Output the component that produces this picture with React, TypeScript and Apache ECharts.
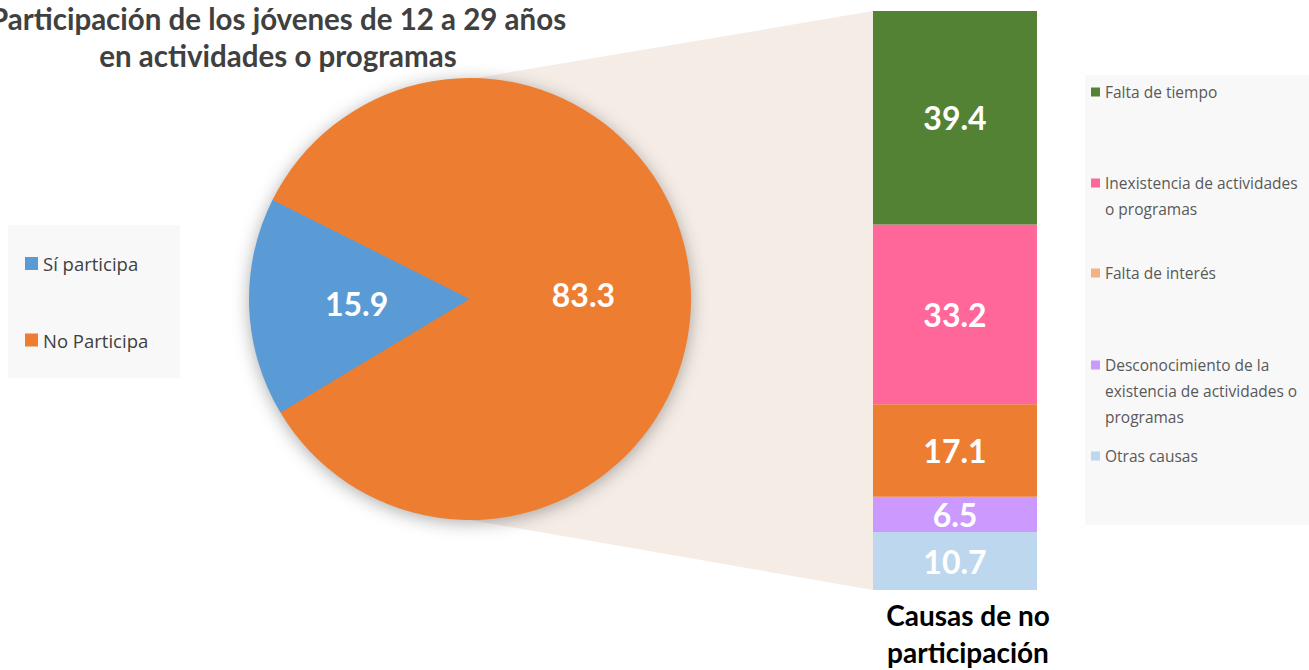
import React, { useEffect, useRef } from "react";
import * as echarts from "echarts";

// ---- data ----
const pieCategories = ["Sí participa", "No Participa"];
const pieValues = [15.9, 83.3];
const pieColors = ["#5B9BD5", "#ED7D31"];

// bottom-to-top order in the stacked bar
const causeCategories = [
  "Otras causas",
  "Desconocimiento de la existencia de actividades o programas",
  "Falta de interés",
  "Inexistencia de actividades o programas",
  "Falta de tiempo",
];
const causeValues = [10.7, 6.5, 17.1, 33.2, 39.4];
const causeColors = ["#BDD7EE", "#CC99FF", "#ED7D31", "#FF6699", "#548235"];
const causeLegendColors = ["#BDD7EE", "#CC99FF", "#F4B183", "#FF6699", "#548235"];
const causeLegendLabels = [
  "Otras causas",
  "Desconocimiento de la\nexistencia de actividades o\nprogramas",
  "Falta de interés",
  "Inexistencia de actividades\no programas",
  "Falta de tiempo",
];

const titleText = "Participación de los jóvenes de 12 a 29 años\nen actividades o programas";
const barTitleText = "Causas de no\nparticipación";

// ---- layout ----
const W = 1309;
const H = 670;
const PIE_CX = 470;
const PIE_CY = 299;
const PIE_R = 221;
const BAR_L = 873;
const BAR_T = 11;
const BAR_W = 164;
const BAR_H = 579;
const FONT = "Lato, 'Noto Sans', sans-serif";
const LEG_FONT = "'Open Sans', Lato, sans-serif";

// legend icon centre y for right legend, top to bottom
const rightLegendCenters = [92, 183, 273, 365, 456];
const leftLegendCenters = [263.5, 340];

export default function App() {
  const ref = useRef<HTMLDivElement>(null);

  useEffect(() => {
    if (!ref.current) return;
    const chart = echarts.init(ref.current, null, { renderer: "svg" });

    const total = causeValues.reduce((a, b) => a + b, 0);

    const legends: any[] = [];
    // left legend (pie)
    pieCategories.forEach((name, i) => {
      legends.push({
        left: 25,
        top: leftLegendCenters[i] - 13,
        padding: 0,
        itemWidth: 13,
        itemHeight: 13,
        itemGap: 0,
        selectedMode: false,
        icon: "rect",
        data: [{ name, itemStyle: { color: pieColors[i] } }],
        textStyle: { fontFamily: LEG_FONT, fontSize: 18.5, color: "#404040", lineHeight: 26 },
      });
    });
    // right legend (bar), top to bottom
    const order = [4, 3, 2, 1, 0];
    order.forEach((idx, k) => {
      const label = causeLegendLabels[idx];
      const n = label.split("\n").length;
      // leading blank lines keep the first line level with the icon
      const shown = "\n".repeat(n - 1) + label;
      legends.push({
        left: 1091,
        top: rightLegendCenters[k] - 13 * (2 * n - 1),
        padding: 0,
        itemWidth: 9,
        itemHeight: 9,
        itemGap: 0,
        selectedMode: false,
        icon: "rect",
        data: [{ name: causeCategories[idx], itemStyle: { color: causeLegendColors[idx] } }],
        formatter: () => shown,
        textStyle: {
          fontFamily: LEG_FONT,
          fontSize: 15.5,
          color: "#595959",
          lineHeight: 26,
        },
      });
    });

    const option: any = {
      animation: false,
      backgroundColor: "#FFFFFF",
      title: [
        {
          text: titleText,
          left: 278,
          top: 0,
          padding: 0,
          textAlign: "center",
          textStyle: {
            fontFamily: FONT,
            fontWeight: "bold",
            fontSize: 29.5,
            color: "#404040",
            lineHeight: 37,
          },
        },
        {
          text: barTitleText,
          left: 968,
          top: 596,
          padding: 0,
          textAlign: "center",
          textStyle: {
            fontFamily: FONT,
            fontWeight: "bold",
            fontSize: 28,
            color: "#000000",
            lineHeight: 37,
          },
        },
      ],
      legend: legends,
      graphic: [
        {
          type: "rect",
          z: -10,
          silent: true,
          shape: { x: 8, y: 225, width: 172, height: 153 },
          style: { fill: "#F8F8F8" },
        },
        {
          type: "rect",
          z: -10,
          silent: true,
          shape: { x: 1085, y: 75, width: W - 1085, height: 450 },
          style: { fill: "#F8F8F8" },
        },
        {
          type: "polygon",
          z: -5,
          silent: true,
          shape: {
            points: [
              [PIE_CX, PIE_CY - PIE_R + 1],
              [BAR_L, BAR_T],
              [BAR_L, BAR_T + BAR_H],
              [PIE_CX, PIE_CY + PIE_R],
            ],
          },
          style: { fill: "#F5ECE6" },
        },
        {
          type: "circle",
          z: -4,
          silent: true,
          shape: { cx: PIE_CX, cy: PIE_CY, r: PIE_R - 1 },
          style: {
            fill: "#ED7D31",
            shadowBlur: 18,
            shadowColor: "rgba(0,0,0,0.35)",
            shadowOffsetX: 0,
            shadowOffsetY: 3,
          },
        },
      ],
      grid: { left: BAR_L, top: BAR_T, width: BAR_W, height: BAR_H },
      xAxis: { type: "category", data: ["Causas"], show: false },
      yAxis: { type: "value", min: 0, max: total, show: false },
      series: [
        {
          type: "pie",
          center: [PIE_CX, PIE_CY],
          radius: PIE_R,
          startAngle: 211,
          clockwise: true,
          silent: true,
          z: 3,
          data: pieCategories.map((name, i) => ({
            name,
            value: pieValues[i],
            itemStyle: { color: pieColors[i] },
          })),
          label: {
            show: true,
            position: "inside",
            formatter: (p: any) => p.value.toFixed(1),
            color: "#FFFFFF",
            fontFamily: FONT,
            fontWeight: "bold",
            fontSize: 32,
          },
          labelLine: { show: false },
        },
        ...causeCategories.map((name, i) => ({
          type: "bar",
          name,
          stack: "causas",
          barWidth: "100%",
          silent: true,
          data: [causeValues[i]],
          itemStyle: { color: causeColors[i] },
          label: {
            show: true,
            position: "inside",
            formatter: (p: any) => p.value.toFixed(1),
            color: "#FFFFFF",
            fontFamily: FONT,
            fontWeight: "bold",
            fontSize: 32,
          },
        })),
      ],
    };

    chart.setOption(option);
    return () => chart.dispose();
  }, []);

  return (
    <div
      ref={ref}
      style={{ position: "fixed", left: 0, top: 0, width: W, height: H }}
    />
  );
}
